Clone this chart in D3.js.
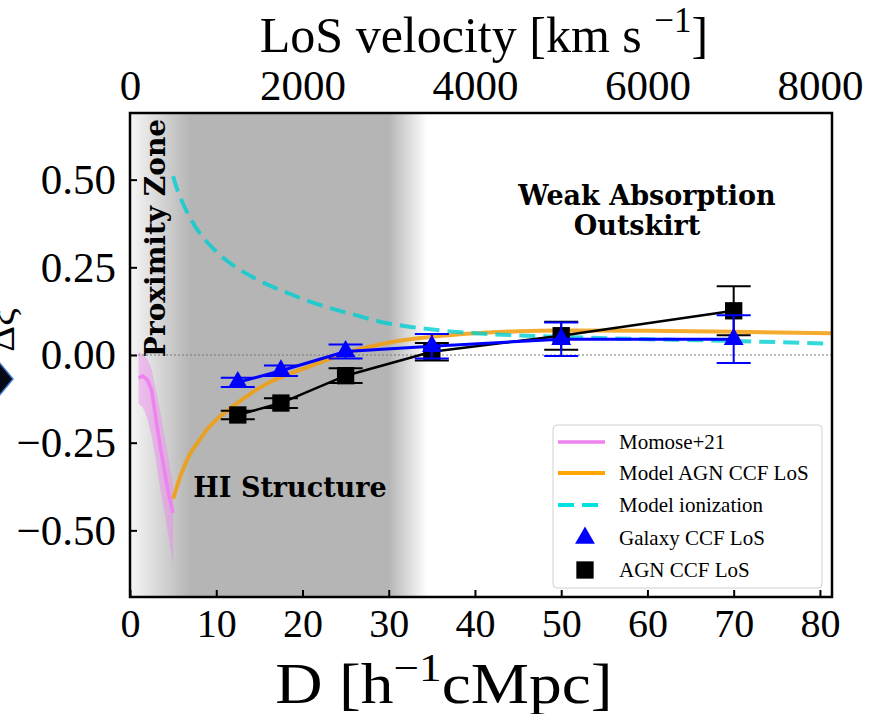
<!DOCTYPE html>
<html>
<head>
<meta charset="utf-8">
<script src="https://cdn.jsdelivr.net/npm/d3@7"></script>
<style>
  body { margin: 0; background: #fff; }
  svg { display: block; }
</style>
</head>
<body>
<div id="chart"></div>
<script>
// distances (h^-1 cMpc) of the binned CCF points
var binD = [12.5, 17.5, 25, 35, 50, 70];
var galaxyCCF = [-0.078, -0.045, 0.010, 0.025, 0.045, 0.045];
var galaxyErr = [0.013, 0.015, 0.020, 0.035, 0.048, 0.068];
var agnCCF = [-0.171, -0.137, -0.059, 0.009, 0.055, 0.126];
var agnErr = [0.012, 0.014, 0.021, 0.025, 0.040, 0.070];

// model AGN CCF LoS curve
var modelD = [5, 6, 7, 8, 9, 10, 12, 14, 16, 18, 20, 22, 25, 28, 31, 35, 40, 45, 50, 60, 70, 81.4];
var modelAGN = [-0.41, -0.335, -0.28, -0.245, -0.21, -0.185, -0.145, -0.11, -0.08, -0.058, -0.04, -0.022, 0.005, 0.025, 0.04, 0.052, 0.062, 0.068, 0.07, 0.069, 0.066, 0.062];

// model ionization curve
var ionD = [5, 5.5, 6, 7, 8, 9, 10, 12, 14, 16, 18, 20, 23, 26, 29, 32, 36, 40, 50, 60, 70, 81.4];
var ionModel = [0.51, 0.47, 0.44, 0.39, 0.35, 0.32, 0.295, 0.255, 0.225, 0.2, 0.18, 0.16, 0.135, 0.115, 0.095, 0.082, 0.07, 0.062, 0.052, 0.045, 0.04, 0.032];

// Momose+21 profile with its band
var momoseD = [1, 1.5, 2, 2.5, 3, 3.5, 4, 4.5, 5];
var momose = [-0.065, -0.06, -0.07, -0.10, -0.18, -0.26, -0.33, -0.40, -0.45];
var momoseLo = [-0.14, -0.15, -0.18, -0.23, -0.30, -0.38, -0.45, -0.52, -0.60];
var momoseHi = [0.01, 0.0, -0.01, -0.04, -0.10, -0.16, -0.23, -0.30, -0.37];

var xTicks = [0, 10, 20, 30, 40, 50, 60, 70, 80];
var yTicks = [-0.50, -0.25, 0.00, 0.25, 0.50];
var velTicks = [0, 2000, 4000, 6000, 8000];
var legendLabels = ["Momose+21", "Model AGN CCF LoS", "Model ionization", "Galaxy CCF LoS", "AGN CCF LoS"];

var W = 871, H = 714;
var box = {left: 130, right: 832, top: 113, bottom: 597};
var serif = "'Liberation Serif', 'Times New Roman', serif";
var boldSerif = "'DejaVu Serif', serif";

var svg = d3.select("#chart").append("svg")
  .attr("width", W).attr("height", H);

var x = d3.scaleLinear().domain([0, 81.4]).range([box.left, box.right]);
var xv = d3.scaleLinear().domain([0, 8140]).range([box.left, box.right]);
var y = d3.scaleLinear().domain([-0.69, 0.69]).range([box.bottom, box.top]);

// shaded HI structure region
var defs = svg.append("defs");
var grad = defs.append("linearGradient").attr("id", "shade")
  .attr("gradientUnits", "userSpaceOnUse")
  .attr("x1", x(0)).attr("x2", x(36)).attr("y1", 0).attr("y2", 0);
var stops = [[0, "#f6f6f6"], [2, "#e4e4e4"], [7, "#b5b5b5"], [30, "#b5b5b5"], [34.5, "#ffffff"], [36, "#ffffff"]];
stops.forEach(function(s) {
  grad.append("stop").attr("offset", (s[0] / 36 * 100) + "%").attr("stop-color", s[1]);
});
defs.append("clipPath").attr("id", "plotclip").append("rect")
  .attr("x", box.left).attr("y", box.top).attr("width", box.right - box.left).attr("height", box.bottom - box.top);

var plot = svg.append("g").attr("clip-path", "url(#plotclip)");
plot.append("rect")
  .attr("x", x(0)).attr("y", box.top)
  .attr("width", x(36) - x(0)).attr("height", box.bottom - box.top)
  .attr("fill", "url(#shade)");

// zero line
plot.append("line")
  .attr("x1", box.left).attr("x2", box.right).attr("y1", y(0)).attr("y2", y(0))
  .attr("stroke", "#777").attr("stroke-width", 1).attr("stroke-dasharray", "2,2");

// Momose band + line
var band = d3.area()
  .x(function(d, i) { return x(momoseD[i]); })
  .y0(function(d, i) { return y(momoseLo[i]); })
  .y1(function(d, i) { return y(momoseHi[i]); });
plot.append("path").datum(momoseD).attr("d", band)
  .attr("fill", "violet").attr("opacity", 0.45);
var line = d3.line();
plot.append("path")
  .attr("d", line(momoseD.map(function(d, i) { return [x(d), y(momose[i])]; })))
  .attr("fill", "none").attr("stroke", "violet").attr("stroke-width", 3.5);

// model curves
var curve = d3.line().curve(d3.curveMonotoneX);
plot.append("path")
  .attr("d", curve(modelD.map(function(d, i) { return [x(d), y(modelAGN[i])]; })))
  .attr("fill", "none").attr("stroke", "#f29e0c").attr("stroke-opacity", 0.85).attr("stroke-width", 4);
plot.append("path")
  .attr("d", curve(ionD.map(function(d, i) { return [x(d), y(ionModel[i])]; })))
  .attr("fill", "none").attr("stroke", "#00ced1").attr("stroke-opacity", 0.8)
  .attr("stroke-width", 4).attr("stroke-dasharray", "16,8");

// data series with error bars
function drawSeries(vals, errs, color, lw, marker) {
  var g = plot.append("g");
  g.append("path")
    .attr("d", line(binD.map(function(d, i) { return [x(d), y(vals[i])]; })))
    .attr("fill", "none").attr("stroke", color).attr("stroke-width", lw);
  binD.forEach(function(d, i) {
    var cx = x(d), y1 = y(vals[i] + errs[i]), y2 = y(vals[i] - errs[i]);
    g.append("line").attr("x1", cx).attr("x2", cx).attr("y1", y1).attr("y2", y2)
      .attr("stroke", color).attr("stroke-width", 2);
    [y1, y2].forEach(function(yy) {
      g.append("line").attr("x1", cx - 17).attr("x2", cx + 17).attr("y1", yy).attr("y2", yy)
        .attr("stroke", color).attr("stroke-width", 2);
    });
  });
  g.selectAll(".m").data(binD).enter().append("path")
    .attr("transform", function(d, i) { return "translate(" + x(d) + "," + y(vals[i]) + ")"; })
    .attr("d", marker).attr("fill", color);
}
var square = d3.symbol().type(d3.symbolSquare).size(300)();
var tri = d3.symbol().type(d3.symbolTriangle).size(170)();
drawSeries(agnCCF, agnErr, "#000", 2.5, square);
drawSeries(galaxyCCF, galaxyErr, "#0000ff", 3, tri);

// annotations
function note(xp, yp, txt, size) {
  return svg.append("text").attr("x", xp).attr("y", yp).attr("text-anchor", "middle")
    .attr("font-family", boldSerif).attr("font-weight", "bold").attr("font-size", size)
    .text(txt);
}
note(0, 0, "Proximity Zone", 28).attr("transform", "translate(165,238) rotate(-90)");
note(290, 497, "HI Structure", 27);
note(647, 205, "Weak Absorption", 27);
note(637, 235, "Outskirt", 27);

// axes
function styleAxis(size) {
  return function(g) {
    g.select(".domain").remove();
    g.selectAll(".tick line").attr("stroke", "#000").attr("stroke-width", 2);
    g.selectAll(".tick text").attr("font-family", serif).attr("font-size", size).attr("fill", "#000");
  };
}
svg.append("g").attr("transform", "translate(0," + box.bottom + ")")
  .call(d3.axisBottom(x).tickValues(xTicks).tickSize(-7).tickPadding(12).tickFormat(d3.format("d")))
  .call(styleAxis(40));
svg.append("g").attr("transform", "translate(0," + box.top + ")")
  .call(d3.axisTop(xv).tickValues(velTicks).tickSize(0).tickPadding(13).tickFormat(d3.format("d")))
  .call(styleAxis(43));
svg.append("g").attr("transform", "translate(" + box.left + ",0)")
  .call(d3.axisLeft(y).tickValues(yTicks).tickSize(-7).tickPadding(14)
    .tickFormat(function(d) { return d3.format(".2f")(d).replace("-", "\u2212"); }))
  .call(styleAxis(43));

// frame
svg.append("rect").attr("x", box.left).attr("y", box.top)
  .attr("width", box.right - box.left).attr("height", box.bottom - box.top)
  .attr("fill", "none").attr("stroke", "#000").attr("stroke-width", 2.5);

// axis titles
var xt = svg.append("text").attr("transform", "translate(444,703) scale(1.13,1)")
  .attr("text-anchor", "middle")
  .attr("font-family", serif).attr("font-size", 58);
xt.append("tspan").text("D [h");
xt.append("tspan").attr("dy", -22).attr("font-size", 40).text("\u22121");
xt.append("tspan").attr("dy", 22).text("cMpc]");

var tt = svg.append("text").attr("x", 484).attr("y", 52).attr("text-anchor", "middle")
  .attr("font-family", serif).attr("font-size", 50);
tt.append("tspan").text("LoS velocity [km s ");
tt.append("tspan").attr("dy", -20).attr("font-size", 35).text("\u22121");
tt.append("tspan").attr("dy", 20).text("]");

// clipped y label
svg.append("text")
  .attr("transform", "translate(14,330) rotate(-90)")
  .attr("text-anchor", "middle")
  .attr("font-family", serif).attr("font-size", 40)
  .text("\u0394\u03be");

// left edge arrow
svg.append("path")
  .attr("d", "M-2,361 L13,379 L-2,397 Z")
  .attr("fill", "#050a14").attr("stroke", "#3a7bd5").attr("stroke-width", 1.5);

// legend
var lg = svg.append("g").attr("transform", "translate(553,425)");
lg.append("rect").attr("width", 269).attr("height", 163).attr("rx", 4)
  .attr("fill", "#fff").attr("stroke", "#d0d0d0").attr("stroke-width", 1);
var rowY = [17, 48, 80, 113, 145];
legendLabels.forEach(function(lab, i) {
  var r = lg.append("g").attr("transform", "translate(0," + rowY[i] + ")");
  if (i === 0) r.append("line").attr("x1", 5).attr("x2", 52).attr("stroke", "violet").attr("stroke-width", 3.5);
  if (i === 1) r.append("line").attr("x1", 5).attr("x2", 52).attr("stroke", "#ffa500").attr("stroke-width", 4);
  if (i === 2) r.append("line").attr("x1", 5).attr("x2", 52).attr("stroke", "#00e0e0")
    .attr("stroke-width", 4).attr("stroke-dasharray", "16,8");
  if (i === 3) r.append("path").attr("transform", "translate(32,0)").attr("d", tri).attr("fill", "#0000ff");
  if (i === 4) r.append("path").attr("transform", "translate(32,0)").attr("d", square).attr("fill", "#000");
  r.append("text").attr("x", 66).attr("y", 7).attr("font-family", serif).attr("font-size", 21).text(lab);
});
</script>
</body>
</html>
